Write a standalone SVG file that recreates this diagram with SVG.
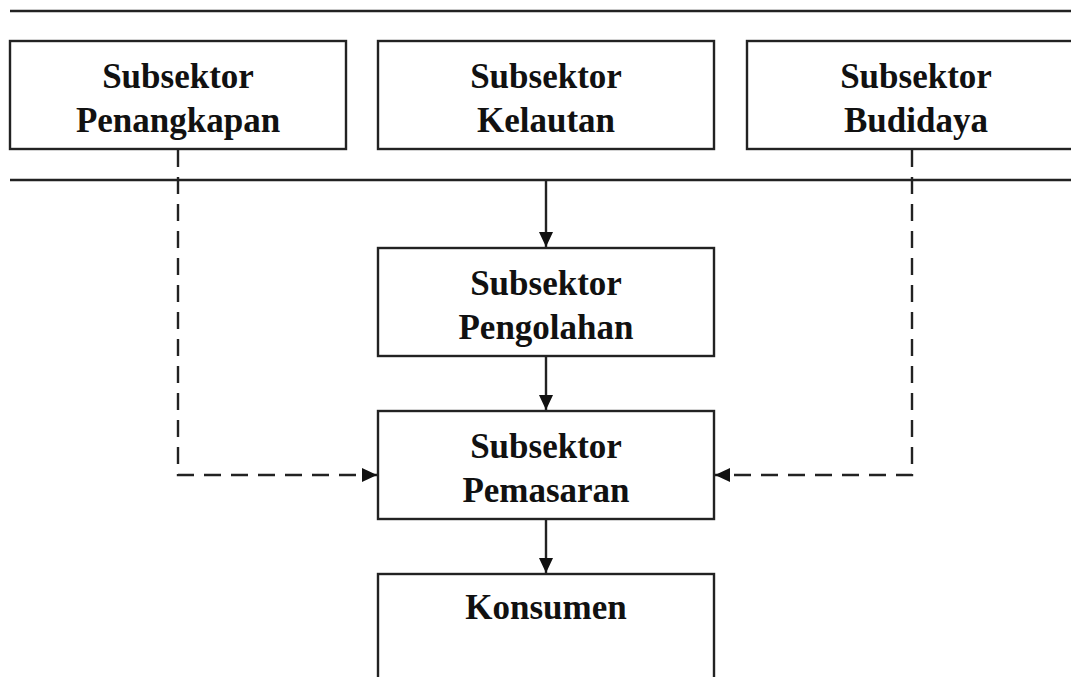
<svg xmlns="http://www.w3.org/2000/svg" width="1071" height="677" viewBox="0 0 1071 677">
<defs>
<style>
.box{fill:#fff;stroke:#222;stroke-width:2.4}
.t{font-family:"Liberation Serif","Times New Roman",serif;font-weight:bold;font-size:35px;fill:#111;text-anchor:middle}
.ln{stroke:#222;stroke-width:2.4;fill:none}
.dash{stroke:#222;stroke-width:2.4;fill:none;stroke-dasharray:17 10}
</style>
<marker id="ah" markerUnits="userSpaceOnUse" markerWidth="16" markerHeight="14" refX="15" refY="7" orient="auto">
<path d="M0,0 L15,7 L0,14 Z" fill="#111"/>
</marker>
</defs>
<rect width="1071" height="677" fill="#fff"/>
<g id="rules">
<line class="ln" x1="10" y1="11" x2="1071" y2="11"/>
<line class="ln" x1="10" y1="180" x2="1071" y2="180"/>
</g>
<g id="connectors">
<line class="ln" x1="546" y1="180" x2="546" y2="247" marker-end="url(#ah)"/>
<line class="ln" x1="546" y1="356" x2="546" y2="410" marker-end="url(#ah)"/>
<line class="ln" x1="546" y1="519" x2="546" y2="573" marker-end="url(#ah)"/>
<polyline class="dash" points="178,150 178,475 377,475" marker-end="url(#ah)"/>
<polyline class="dash" points="912,150 912,475 715,475" marker-end="url(#ah)"/>
</g>
<g id="penangkapan">
<rect class="box" x="10" y="41" width="336" height="108"/>
<text class="t" x="178" y="88">Subsektor</text>
<text class="t" x="178" y="132">Penangkapan</text>
</g>
<g id="kelautan">
<rect class="box" x="378" y="41" width="336" height="108"/>
<text class="t" x="546" y="88">Subsektor</text>
<text class="t" x="546" y="132">Kelautan</text>
</g>
<g id="budidaya">
<rect class="box" x="747" y="41" width="340" height="108"/>
<text class="t" x="916" y="88">Subsektor</text>
<text class="t" x="916" y="132">Budidaya</text>
</g>
<g id="pengolahan">
<rect class="box" x="378" y="248" width="336" height="108"/>
<text class="t" x="546" y="295">Subsektor</text>
<text class="t" x="546" y="339">Pengolahan</text>
</g>
<g id="pemasaran">
<rect class="box" x="378" y="411" width="336" height="108"/>
<text class="t" x="546" y="458">Subsektor</text>
<text class="t" x="546" y="502">Pemasaran</text>
</g>
<g id="konsumen">
<rect class="box" x="378" y="574" width="336" height="120"/>
<text class="t" x="546" y="619">Konsumen</text>
</g>
</svg>
